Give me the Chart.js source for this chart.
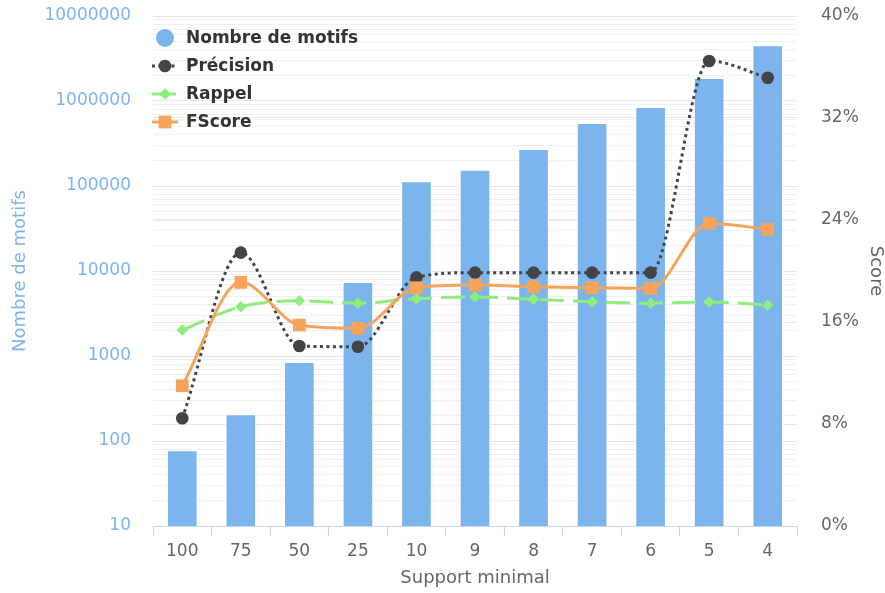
<!DOCTYPE html>
<html>
<head>
<meta charset="utf-8">
<script src="https://cdn.jsdelivr.net/npm/chart.js@4.4.1/dist/chart.umd.min.js"></script>
<style>
  html, body { margin: 0; padding: 0; background: #fff; }
  #wrap { width: 885px; height: 593px; }
</style>
</head>
<body>
<div id="wrap"><canvas id="chart"></canvas></div>
<script>
// support values on the x axis
const supports = ['100', '75', '50', '25', '10', '9', '8', '7', '6', '5', '4'];

// number of patterns (log axis, left)
const nbMotifs = [77, 204, 843, 7360, 112500, 154000, 270000, 547000, 843000, 1850000, 4480000];

// scores in percent (right axis)
const precision = [8.45, 21.44, 14.12, 14.06, 19.5, 19.87, 19.87, 19.87, 19.87, 36.47, 35.16];
const rappel    = [15.37, 17.2, 17.67, 17.47, 17.83, 17.96, 17.78, 17.59, 17.47, 17.57, 17.33];
const fscore    = [11.0, 19.11, 15.76, 15.5, 18.69, 18.9, 18.77, 18.69, 18.64, 23.74, 23.27];

const scoreTicks = [0, 8, 16, 24, 32, 40];

Chart.defaults.font.family = '"DejaVu Sans", sans-serif';
Chart.defaults.font.size = 17;

const isPow10 = v => /^10*$/.test(String(v));

// log grid: 1..9 x 10^n
const logTicks = [];
for (let e = 1; e < 7; e++) {
    for (let s = 1; s < 10; s++) logTicks.push(s * Math.pow(10, e));
}
logTicks.push(10000000);

// legend drawn inside the plot, symbol + line like the original
const legendBox = {
    id: 'legendBox',
    afterDraw(chart) {
        const ctx = chart.ctx;
        ctx.save();
        chart.data.datasets.forEach((ds, i) => {
            const y = 38 + i * 28;
            const x = 165;
            if (ds.type === 'bar') {
                ctx.fillStyle = ds.backgroundColor;
                ctx.beginPath();
                ctx.arc(x, y, 9, 0, Math.PI * 2);
                ctx.fill();
            } else {
                ctx.strokeStyle = ds.borderColor;
                ctx.lineWidth = ds.borderWidth;
                ctx.setLineDash(ds.borderDash || []);
                ctx.beginPath();
                ctx.moveTo(152, y);
                ctx.lineTo(178, y);
                ctx.stroke();
                ctx.setLineDash([]);
                ctx.fillStyle = ds.pointBackgroundColor;
                Chart.helpers.drawPoint(ctx, {pointStyle: ds.pointStyle, radius: ds.pointRadius, rotation: 0, borderWidth: 0}, x, y);
            }
            ctx.fillStyle = '#333333';
            ctx.font = 'bold 17px "DejaVu Sans"';
            ctx.textBaseline = 'middle';
            ctx.textAlign = 'left';
            ctx.fillText(ds.label, 186, y + 1);
        });
        ctx.restore();
    }
};

new Chart(document.getElementById('chart'), {
    data: {
        labels: supports,
        datasets: [{
            type: 'bar',
            label: 'Nombre de motifs',
            data: nbMotifs,
            backgroundColor: '#7cb5ec',
            borderColor: '#ffffff',
            borderWidth: 1,
            barThickness: 30,
            yAxisID: 'y',
            order: 4
        }, {
            type: 'line',
            label: 'Précision',
            data: precision,
            borderColor: '#434348',
            borderWidth: 3,
            borderDash: [3, 3.5],
            pointStyle: 'circle',
            pointRadius: 6.3,
            pointBackgroundColor: '#434348',
            pointBorderWidth: 0,
            cubicInterpolationMode: 'monotone',
            fill: false,
            yAxisID: 'y1',
            order: 3
        }, {
            type: 'line',
            label: 'Rappel',
            data: rappel,
            borderColor: '#90ed7d',
            borderWidth: 3,
            borderDash: [24, 9],
            pointStyle: 'rectRot',
            pointRadius: 5.8,
            pointBackgroundColor: '#90ed7d',
            pointBorderWidth: 0,
            cubicInterpolationMode: 'monotone',
            fill: false,
            yAxisID: 'y1',
            order: 2
        }, {
            type: 'line',
            label: 'FScore',
            data: fscore,
            borderColor: '#f7a35c',
            borderWidth: 3,
            pointStyle: 'rect',
            pointRadius: 9,
            pointBackgroundColor: '#f7a35c',
            pointBorderWidth: 0,
            cubicInterpolationMode: 'monotone',
            fill: false,
            yAxisID: 'y1',
            order: 1
        }]
    },
    options: {
        responsive: true,
        maintainAspectRatio: false,
        animation: false,
        layout: { padding: { top: 16, left: 0, right: 0, bottom: 0 } },
        plugins: {
            legend: { display: false },
            tooltip: { enabled: false }
        },
        scales: {
            x: {
                afterFit: s => { s.height = 67; },
                border: { color: '#ccd6eb' },
                grid: { drawOnChartArea: false, tickLength: 10, color: '#ccd6eb' },
                ticks: { color: '#666666', padding: 5 },
                title: { display: true, text: 'Support minimal', color: '#666666', font: { size: 18 }, padding: { top: 4, bottom: 4 } }
            },
            y: {
                type: 'logarithmic',
                position: 'left',
                min: 10,
                max: 10000000,
                afterBuildTicks: s => { s.ticks = logTicks.map(v => ({ value: v, major: isPow10(v) })); },
                afterFit: s => { s.width = 153; s.paddingTop = 0; s.paddingBottom = 0; },
                border: { display: false },
                grid: {
                    drawTicks: false,
                    color: ctx => (ctx.tick && isPow10(ctx.tick.value)) ? '#e6e6e6' : '#f0f0f0'
                },
                ticks: {
                    autoSkip: false,
                    padding: 22,
                    color: '#7cb5ec',
                    callback: v => isPow10(v) ? String(v) : ''
                },
                title: { display: true, text: 'Nombre de motifs', color: '#7cb5ec', font: { size: 18 }, padding: { top: 10, bottom: 0 } }
            },
            y1: {
                position: 'right',
                min: 0,
                max: 40,
                afterBuildTicks: s => { s.ticks = scoreTicks.map(v => ({ value: v })); },
                afterFit: s => { s.width = 88; s.paddingTop = 0; s.paddingBottom = 0; },
                border: { display: false },
                grid: { drawTicks: false, color: '#e6e6e6' },
                ticks: { padding: 24, color: '#666666', callback: v => v + '%' },
                title: { display: true, text: 'Score', color: '#666666', font: { size: 18, lineHeight: 1 }, padding: { top: 0, bottom: 0 } }
            }
        }
    },
    plugins: [legendBox]
});
</script>
</body>
</html>
